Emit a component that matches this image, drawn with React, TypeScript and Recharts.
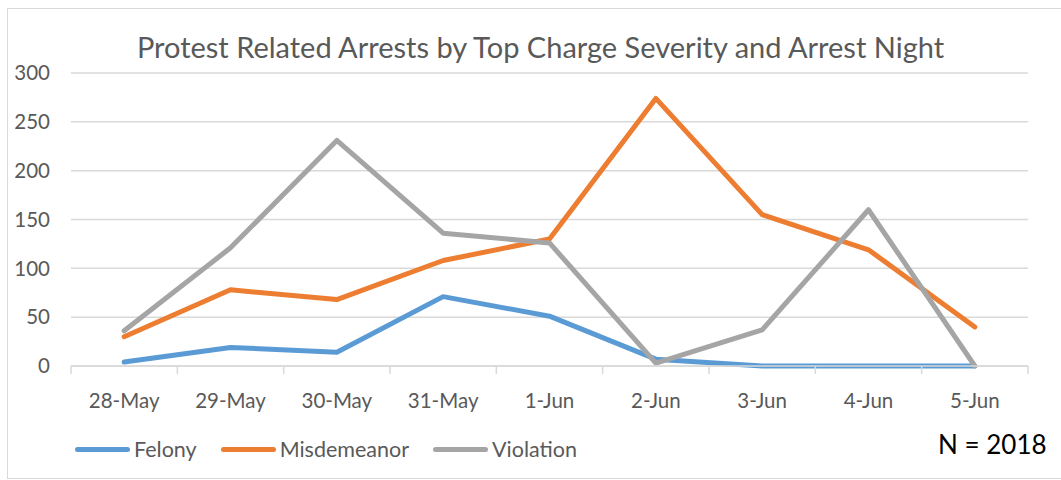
import React from 'react';
import { LineChart, Line, XAxis, YAxis, CartesianGrid } from 'recharts';

const categories = ['28-May', '29-May', '30-May', '31-May', '1-Jun', '2-Jun', '3-Jun', '4-Jun', '5-Jun'];
const felony = [4, 19, 14, 71, 51, 7, 0, 0, 0];
const misdemeanor = [30, 78, 68, 108, 130, 274, 155, 119, 40];
const violation = [36, 121, 231, 136, 126, 3, 37, 160, 0];
const yTicks = [0, 50, 100, 150, 200, 250, 300];
const seriesNames = ['Felony', 'Misdemeanor', 'Violation'];
const seriesColors = ['#5B9BD5', '#ED7D31', '#A5A5A5'];
const title = 'Protest Related Arrests by Top Charge Severity and Arrest Night';
const note = 'N = 2018';

const data = categories.map((c, i) => ({
  date: c,
  Felony: felony[i],
  Misdemeanor: misdemeanor[i],
  Violation: violation[i],
}));

const FONT = 'Lato, "Liberation Sans", sans-serif';
const GRID = '#d9d9d9';
const TEXT = '#595959';

const XTick = (props: any) => {
  const { x, y, payload, index, visibleTicksCount } = props;
  const off = payload && payload.offset ? payload.offset : 0;
  const axisY = y - 27;
  return (
    <g>
      <line x1={x - off} x2={x - off} y1={axisY} y2={axisY + 8} stroke={GRID} strokeWidth={1.5} />
      {index === visibleTicksCount - 1 && (
        <line x1={x + off} x2={x + off} y1={axisY} y2={axisY + 8} stroke={GRID} strokeWidth={1.5} />
      )}
      <text x={x} y={y} dy="0.71em" textAnchor="middle" fill={TEXT} fontSize={20.5} fontFamily={FONT}>
        {payload.value}
      </text>
    </g>
  );
};

export default function App() {
  return (
    <div style={{ position: 'absolute', left: 0, top: 0, width: 1061, height: 480, background: '#fff', overflow: 'hidden' }}>
      <div
        style={{
          position: 'absolute',
          left: 7,
          top: 8,
          width: 1100,
          height: 471,
          border: `1px solid ${GRID}`,
          boxSizing: 'border-box',
        }}
      />
      <div
        style={{
          position: 'absolute',
          left: 0,
          width: 1081,
          top: 30,
          textAlign: 'center',
          fontFamily: FONT,
          fontSize: 29,
          color: TEXT,
          lineHeight: '34px',
          whiteSpace: 'nowrap',
        }}
      >
        {title}
      </div>
      <div
        style={{
          position: 'absolute',
          left: 938,
          top: 429,
          fontFamily: FONT,
          fontSize: 26,
          color: '#000',
          lineHeight: '30px',
          whiteSpace: 'nowrap',
        }}
      >
        {note}
      </div>
      <div
        style={{
          position: 'absolute',
          left: 75,
          top: 436,
          display: 'flex',
          alignItems: 'center',
          fontFamily: FONT,
          fontSize: 21.5,
          color: TEXT,
          lineHeight: '26px',
          whiteSpace: 'nowrap',
        }}
      >
        {seriesNames.map((name, i) => (
          <div key={name} style={{ display: 'flex', alignItems: 'center', marginRight: 24 }}>
            <div style={{ width: 55, height: 5, borderRadius: 3, background: seriesColors[i], marginRight: 4 }} />
            <span>{name}</span>
          </div>
        ))}
      </div>
      <div style={{ position: 'absolute', left: 0, top: 0 }}>
        <LineChart width={1061} height={480} data={data} margin={{ top: 73, right: 33, left: 0, bottom: 84 }}>
          <CartesianGrid vertical={false} stroke={GRID} strokeWidth={1.5} />
          <XAxis
            dataKey="date"
            scale="band"
            height={30}
            tickLine={false}
            axisLine={{ stroke: GRID, strokeWidth: 1.5 }}
            tickSize={6}
            tickMargin={21}
            tick={<XTick />}
            interval={0}
          />
          <YAxis
            width={71}
            domain={[0, 300]}
            ticks={yTicks}
            axisLine={false}
            tickLine={false}
            tickSize={6}
            tickMargin={15}
            tick={{ fill: TEXT, fontSize: 20.5, fontFamily: FONT }}
          />
          {seriesNames.map((name, i) => (
            <Line
              key={name}
              type="linear"
              dataKey={name}
              stroke={seriesColors[i]}
              strokeWidth={5}
              dot={false}
              activeDot={false}
              strokeLinejoin="round"
              strokeLinecap="round"
              isAnimationActive={false}
            />
          ))}
        </LineChart>
      </div>
    </div>
  );
}
